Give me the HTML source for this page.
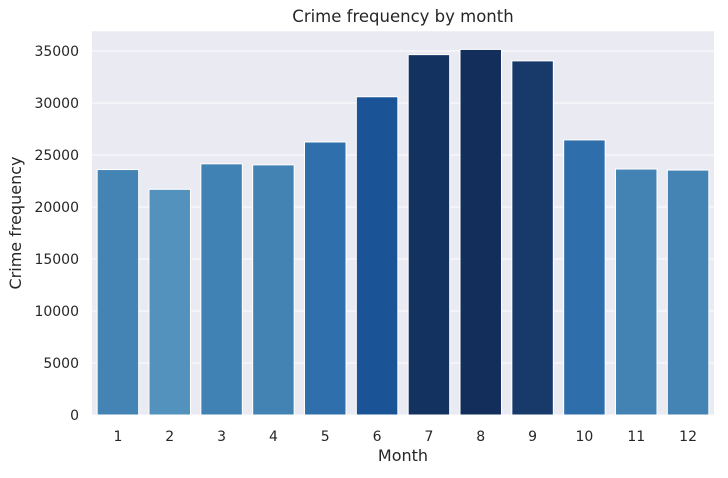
<!DOCTYPE html>
<html><head><meta charset="utf-8"><style>
body{margin:0;background:#fff;font-family:"DejaVu Sans","Liberation Sans",sans-serif;}
</style></head><body>
<svg id="chart" width="728" height="474" xmlns="http://www.w3.org/2000/svg" font-family="DejaVu Sans, Liberation Sans, sans-serif">
<rect x="0" y="0" width="728" height="474" fill="#fff"/>
<rect id="plotbg" fill="#eaeaf2"/>
<g id="grid"></g><g id="bars"></g><g id="axes"></g>
<text x="403" y="22" text-anchor="middle" font-size="16.5" fill="#262626">Crime frequency by month</text>
<text x="403" y="461" text-anchor="middle" font-size="16" fill="#262626">Month</text>
<text transform="translate(21,223) rotate(-90)" text-anchor="middle" font-size="16" fill="#262626">Crime frequency</text>
</svg>
<script>
const categories=["1","2","3","4","5","6","7","8","9","10","11","12"];
const values=[23600,21700,24150,24050,26250,30600,34650,35150,34050,26450,23650,23550];
const colors=["#4384b4","#5292bd","#4182b4","#4283b4","#2f6fab","#1b5496","#14325f","#132e5b","#173a6b","#2e6eab","#4383b4","#4484b4"];
const yTicks=[0,5000,10000,15000,20000,25000,30000,35000];
const NS="http://www.w3.org/2000/svg";
const L=92,R=714,B=415,yMax=Math.max(...values)*1.05;
const T=B-yMax/5000*52;
const y=v=>B-v/yMax*(B-T);
const bw=(R-L)/categories.length;
const x=i=>L+bw*i;
function mk(t,a,p){const e=document.createElementNS(NS,t);for(const k in a)e.setAttribute(k,a[k]);p.appendChild(e);return e;}
const bg=document.getElementById('plotbg');
bg.setAttribute('x',L);bg.setAttribute('y',T);bg.setAttribute('width',R-L);bg.setAttribute('height',B-T);
const g=document.getElementById('grid'),bars=document.getElementById('bars'),ax=document.getElementById('axes');
yTicks.forEach(v=>{
 const l=mk('line',{x1:L,x2:R,y1:y(v),y2:y(v),stroke:'#fff','stroke-width':1},g);
 
 
 const t=mk('text',{x:L-13,y:y(v)+5,'text-anchor':'end','font-size':14,fill:'#262626'},ax);
 t.textContent=v;
 
 
});
categories.forEach((c,i)=>{
 const r=mk('rect',{x:x(i)+bw*0.1,y:y(values[i]),width:bw*0.8,height:B-y(values[i]),fill:colors[i],stroke:'#fff','stroke-width':1},bars);
 
 
 const t=mk('text',{x:x(i)+bw/2,y:B+26,'text-anchor':'middle','font-size':14,fill:'#262626'},ax);
 t.textContent=c;
 
 
});
</script>
</body></html>
